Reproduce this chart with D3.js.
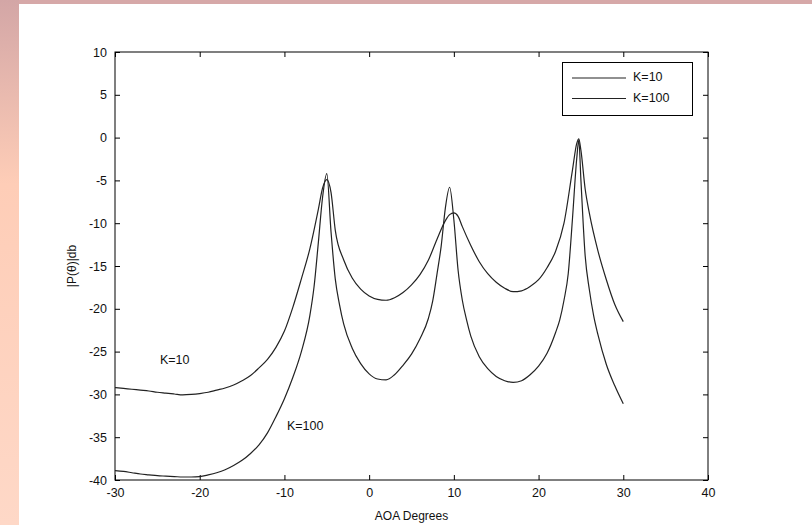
<!DOCTYPE html>
<html>
<head>
<meta charset="utf-8">
<script src="https://cdn.jsdelivr.net/npm/d3@7"></script>
<style>
  html, body { margin: 0; padding: 0; background: #fff; }
  svg { display: block; }
  text { font-family: "Liberation Sans", Arial, sans-serif; fill: #111; }
</style>
</head>
<body>
<svg id="chart" width="812" height="525"></svg>
<script>
// ---- data ----
const anglesK10 = [-30,-29,-28,-27,-26,-25,-24,-23,-22,-21,-20,-19,-18,-17,-16,-15,-14,-13,-12,-11,-10,-9,-8,-7,-6,-5.5,-5,-4.5,-4,-3,-2,-1,0,1,2,3,4,5,6,7,8,9,9.5,10,10.5,11,12,13,14,15,16,17,18,19,20,21,22,23,24,24.5,24.75,25,25.5,26,27,28,29,30];
const valuesK10 = [-29.2,-29.3,-29.4,-29.5,-29.6,-29.75,-29.85,-29.95,-30.05,-30.0,-29.9,-29.75,-29.5,-29.25,-28.9,-28.4,-27.8,-26.9,-25.9,-24.5,-22.6,-19.8,-16.5,-13.0,-8.4,-5.9,-4.9,-6.4,-10.8,-14.3,-16.4,-17.7,-18.5,-18.9,-19.0,-18.7,-18.1,-17.2,-16.0,-14.3,-11.9,-9.7,-9.0,-8.8,-9.2,-10.4,-12.6,-14.5,-15.9,-16.9,-17.6,-18.0,-17.9,-17.4,-16.6,-15.2,-13.3,-10.0,-3.8,-0.7,-0.15,-1.5,-6.0,-8.85,-13.2,-16.6,-19.5,-21.5];

const anglesK100 = [-30,-29,-28,-27,-26,-25,-24,-23,-22,-21,-20,-19,-18,-17,-16,-15,-14,-13,-12,-11,-10,-9,-8,-7,-6.5,-6,-5.5,-5,-4.5,-4,-3.5,-3,-2,-1,0,1,2,3,4,5,6,7,7.5,8,8.5,9,9.5,10,10.5,11,11.5,12,13,14,15,16,17,18,19,20,21,22,22.5,23,23.5,24,24.5,24.75,25,25.5,26,26.5,27,28,29,30];
const valuesK100 = [-38.9,-39.0,-39.15,-39.3,-39.4,-39.5,-39.55,-39.6,-39.65,-39.65,-39.6,-39.4,-39.15,-38.8,-38.3,-37.7,-36.9,-35.9,-34.5,-32.6,-30.5,-28.0,-25.0,-20.8,-17.4,-12.3,-7.0,-4.2,-11.0,-16.5,-19.5,-21.8,-24.6,-26.4,-27.6,-28.2,-28.3,-27.7,-26.6,-25.3,-23.5,-21.1,-19.1,-16.0,-12.7,-8.2,-5.8,-9.6,-15.5,-19.0,-21.3,-23.2,-25.6,-27.0,-27.9,-28.4,-28.6,-28.4,-27.7,-26.7,-25.2,-22.8,-21.3,-19.0,-15.9,-9.5,-2.5,-0.3,-5.0,-13.8,-17.8,-20.8,-23.0,-26.5,-29.0,-31.1];

const xTicks = [-30,-20,-10,0,10,20,30,40];
const yTicks = [10,5,0,-5,-10,-15,-20,-25,-30,-35,-40];
const legendLabels = ["K=10","K=100"];
const annotations = [{text:"K=10", angle:-24.7, value:-26.1}, {text:"K=100", angle:-9.7, value:-33.8}];
const xTitle = "AOA Degrees";
const yTitle = "|P(\u03b8)|db";

// ---- layout ----
const svg = d3.select("#chart");
const L = 115, R = 708, T = 52, B = 480;

// background decoration (slide-like border)
const defs = svg.append("defs");
const grad = defs.append("linearGradient").attr("id","lg").attr("x1",0).attr("y1",0).attr("x2",0).attr("y2",1);
grad.append("stop").attr("offset","0%").attr("stop-color","#d3a6a6");
grad.append("stop").attr("offset","35%").attr("stop-color","#fecdb7");
grad.append("stop").attr("offset","100%").attr("stop-color","#fed8c7");
svg.append("rect").attr("x",0).attr("y",0).attr("width",812).attr("height",4).attr("fill","#d6a8a8");
svg.append("rect").attr("x",0).attr("y",0).attr("width",19).attr("height",525).attr("fill","url(#lg)");

const x = d3.scaleLinear().domain([-30,40]).range([L,R]);
const y = d3.scaleLinear().domain([-40,10]).range([B,T]);

// frame
svg.append("rect").attr("x",L).attr("y",T).attr("width",R-L).attr("height",B-T)
  .attr("fill","none").attr("stroke","#000").attr("stroke-width",1);

// axes (inward ticks on all sides)
const tk = 5;
const fmt = d => String(d);
svg.append("g").attr("transform",`translate(0,${B})`)
  .call(d3.axisBottom(x).tickValues(xTicks).tickSize(-tk).tickPadding(tk+3).tickFormat(fmt))
  .call(g => g.select(".domain").remove());
svg.append("g").attr("transform",`translate(0,${T})`)
  .call(d3.axisTop(x).tickValues(xTicks).tickSize(-tk).tickFormat(""))
  .call(g => g.select(".domain").remove());
svg.append("g").attr("transform",`translate(${L},0)`)
  .call(d3.axisLeft(y).tickValues(yTicks).tickSize(-tk).tickPadding(tk+3).tickFormat(fmt))
  .call(g => g.select(".domain").remove());
svg.append("g").attr("transform",`translate(${R},0)`)
  .call(d3.axisRight(y).tickValues(yTicks).tickSize(-tk).tickFormat(""))
  .call(g => g.select(".domain").remove());
svg.selectAll(".tick line").attr("stroke","#000");
svg.selectAll(".tick text").attr("font-size",12.5).attr("fill","#111")
  .style("font-family","'Liberation Sans', Arial, sans-serif");

// series
const line = d3.line().x(d => x(d[0])).y(d => y(d[1])).curve(d3.curveMonotoneX);
const s1 = anglesK10.map((a,i) => [a, valuesK10[i]]);
const s2 = anglesK100.map((a,i) => [a, valuesK100[i]]);
[s1, s2].forEach(s => {
  svg.append("path").datum(s).attr("d", line)
    .attr("fill","none").attr("stroke","#222").attr("stroke-width",1.2);
});

// titles
svg.append("text").attr("x",(x(-30)+x(40))/2).attr("y",520).attr("text-anchor","middle")
  .attr("font-size",12).text(xTitle);
svg.append("text").attr("transform",`translate(76,${(T+B)/2}) rotate(-90)`).attr("text-anchor","middle")
  .attr("font-size",12).text(yTitle);

// annotations
annotations.forEach(a => {
  svg.append("text").attr("x",x(a.angle)).attr("y",y(a.value)).attr("font-size",12.5)
    .attr("dominant-baseline","middle").text(a.text);
});

// legend
const lg = svg.append("g");
lg.append("rect").attr("x",562.5).attr("y",62.5).attr("width",130).attr("height",53)
  .attr("fill","#fff").attr("stroke","#000").attr("stroke-width",1);
legendLabels.forEach((t,i) => {
  const yy = 78 + i*20.5;
  lg.append("line").attr("x1",572).attr("x2",626).attr("y1",yy).attr("y2",yy)
    .attr("stroke","#222").attr("stroke-width",1.2);
  lg.append("text").attr("x",633).attr("y",yy).attr("dominant-baseline","middle")
    .attr("font-size",12.5).text(t);
});
</script>
</body>
</html>
